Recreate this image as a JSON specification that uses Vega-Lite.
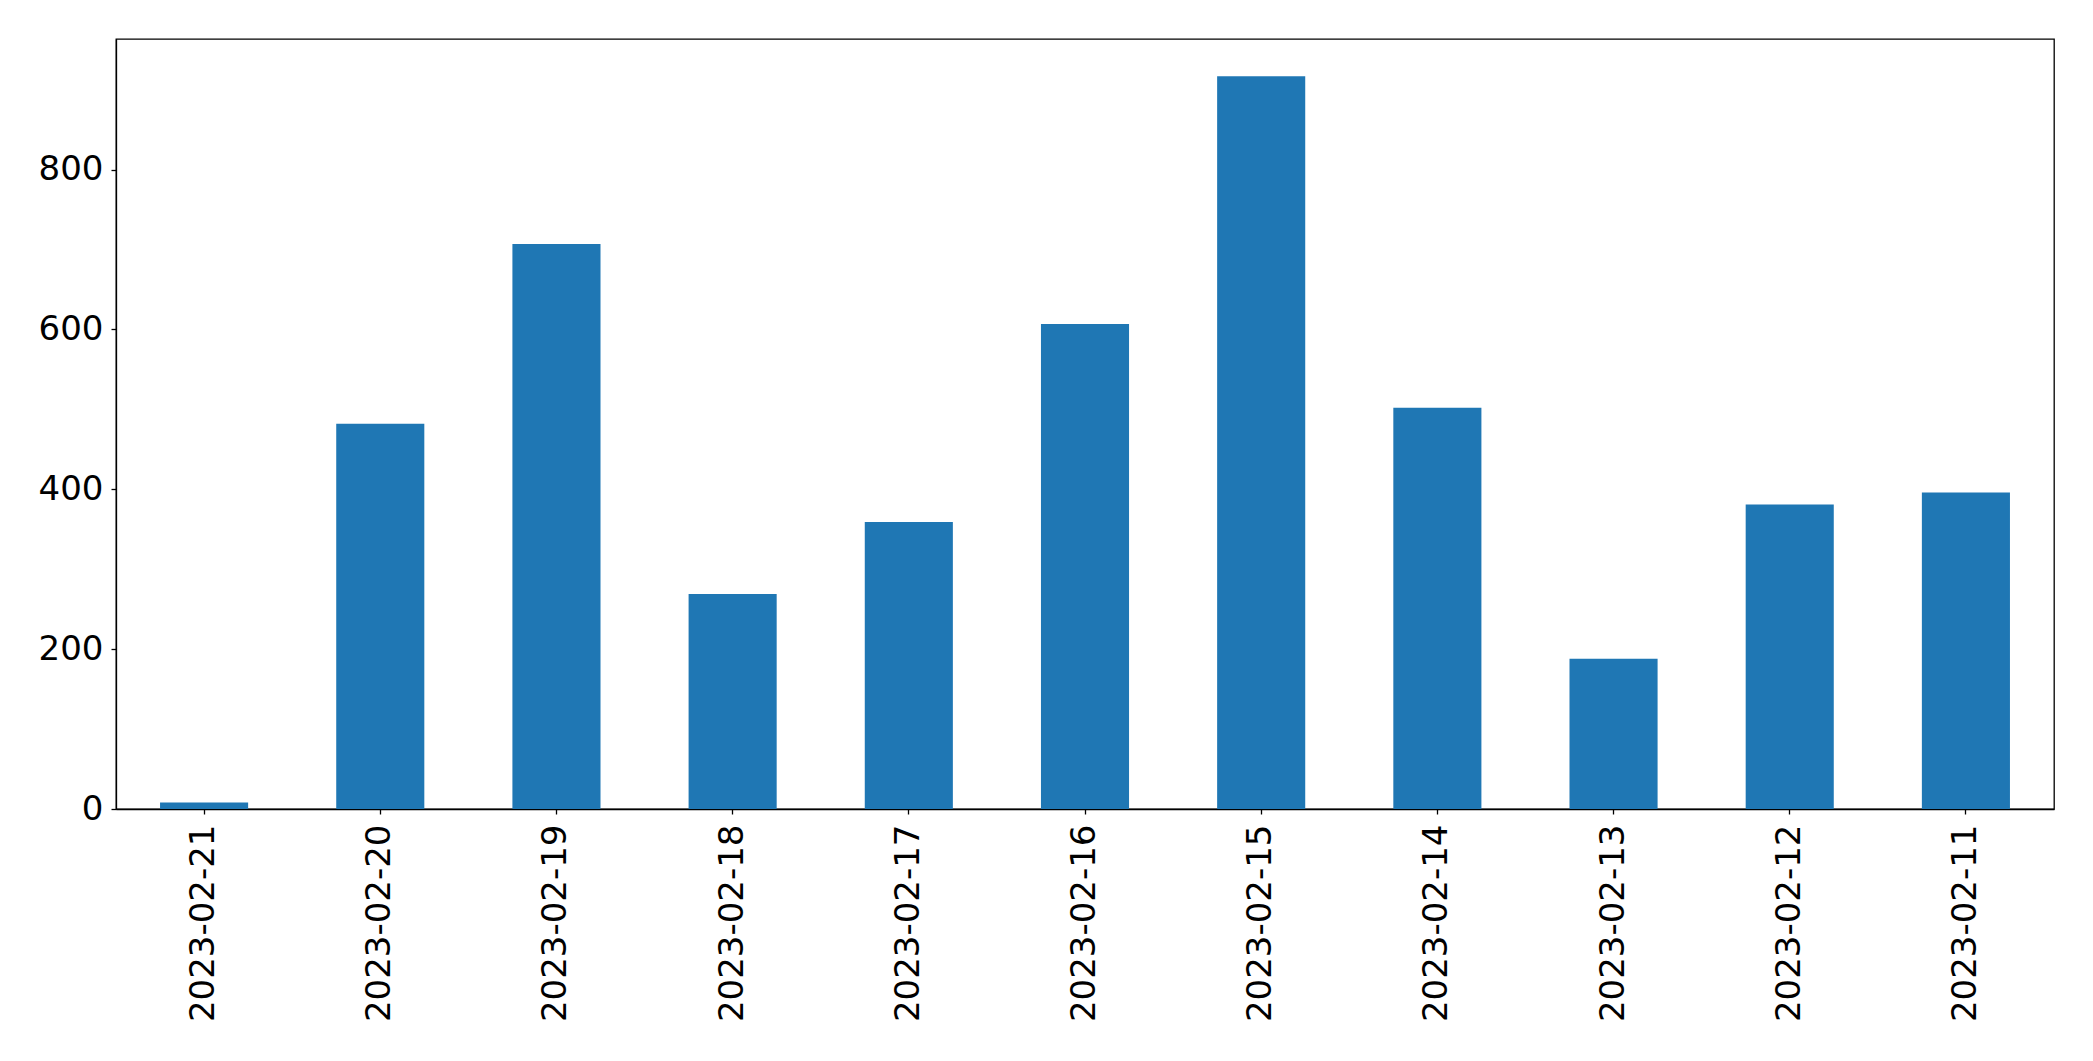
{
  "$schema": "https://vega.github.io/schema/vega-lite/v6.json",
  "autosize": {"type": "none"},
  "padding": {"left": 116, "top": 39, "right": 39, "bottom": 252},
  "width": 1938,
  "height": 770,
  "background": "white",
  "config": {
    "view": {"stroke": "black", "strokeWidth": 1.3},
    "axis": {
      "grid": false,
      "domainColor": "black",
      "tickColor": "black",
      "labelColor": "black",
      "labelFont": "DejaVu Sans",
      "labelFontSize": 34,
      "labelLimit": 0,
      "tickSize": 5,
      "tickWidth": 1.3,
      "domainWidth": 1.3,
      "title": null
    }
  },
  "data": {
    "values": [
      {"date": "2023-02-21", "count": 8},
      {"date": "2023-02-20", "count": 482},
      {"date": "2023-02-19", "count": 707},
      {"date": "2023-02-18", "count": 269},
      {"date": "2023-02-17", "count": 359},
      {"date": "2023-02-16", "count": 607},
      {"date": "2023-02-15", "count": 917},
      {"date": "2023-02-14", "count": 502},
      {"date": "2023-02-13", "count": 188},
      {"date": "2023-02-12", "count": 381},
      {"date": "2023-02-11", "count": 396}
    ]
  },
  "mark": {"type": "bar", "color": "#1f77b4"},
  "encoding": {
    "x": {
      "field": "date",
      "type": "nominal",
      "sort": null,
      "scale": {"paddingInner": 0.5, "paddingOuter": 0.25},
      "axis": {"labelAngle": -90, "labelPadding": 10, "labelAlign": "right", "labelBaseline": "middle", "labelLimit": 0}
    },
    "y": {
      "field": "count",
      "type": "quantitative",
      "scale": {"domain": [0, 963.5], "nice": false, "zero": true},
      "axis": {"values": [0, 200, 400, 600, 800], "labelPadding": 8}
    }
  }
}
